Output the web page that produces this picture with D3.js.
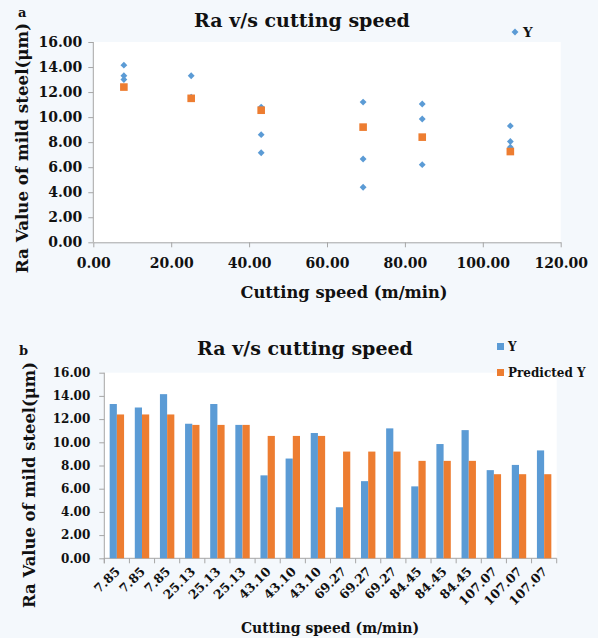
<!DOCTYPE html>
<html><head><meta charset="utf-8">
<script src="https://cdn.jsdelivr.net/npm/d3@7"></script>
<style>
html,body{margin:0;padding:0;background:#f4f8fc;}
svg{display:block;}
text{font-family:"DejaVu Serif",serif;font-weight:bold;fill:#111;}
</style></head><body>
<svg id="c" width="598" height="638"></svg>
<script>
const speeds = [7.85, 25.13, 43.10, 69.27, 84.45, 107.07];
const categories = ["7.85","7.85","7.85","25.13","25.13","25.13","43.10","43.10","43.10","69.27","69.27","69.27","84.45","84.45","84.45","107.07","107.07","107.07"];
const yValues = [13.3, 13.0, 14.15, 11.6, 13.3, 11.5, 7.15, 8.6, 10.8, 4.4, 6.65, 11.2, 6.2, 9.85, 11.05, 7.6, 8.05, 9.3];
const predictedY = [12.4, 12.4, 12.4, 11.5, 11.5, 11.5, 10.55, 10.55, 10.55, 9.2, 9.2, 9.2, 8.4, 8.4, 8.4, 7.25, 7.25, 7.25];
const xTicksA = [0, 20, 40, 60, 80, 100, 120];
const yTicks = [0, 2, 4, 6, 8, 10, 12, 14, 16];
const title = "Ra v/s cutting speed";
const yTitle = "Ra Value of mild steel(\u03bcm)";
const xTitle = "Cutting speed (m/min)";
const blue = "#5b9bd5", orange = "#ed7d31", axisCol = "#a6a6a6";

const svg = d3.select("#c");
const fmt = d => d.toFixed(2);

// ---------- Chart a: scatter ----------
{
  const L = 93.3, R = 560.7, T = 42, B = 242.3;
  const x = d3.scaleLinear().domain([0, 120]).range([L, R]);
  const y = d3.scaleLinear().domain([0, 16]).range([B, T]);
  const g = svg.append("g");
  g.append("rect").attr("x", L).attr("y", T).attr("width", R - L).attr("height", B - T).attr("fill", "#fff");
  const ya = g.append("g").attr("transform", `translate(${L},0)`)
    .call(d3.axisLeft(y).tickValues(yTicks).tickFormat(fmt).tickSize(5).tickPadding(6).tickSizeOuter(0));
  const xa = g.append("g").attr("transform", `translate(0,${B})`)
    .call(d3.axisBottom(x).tickValues(xTicksA).tickFormat(fmt).tickSize(5).tickPadding(11).tickSizeOuter(0));
  [ya, xa].forEach(a => {
    a.selectAll("path,line").attr("stroke", axisCol);
    a.selectAll("text").attr("font-size", 14).attr("font-family", "DejaVu Serif").attr("font-weight", "bold").attr("fill", "#111");
  });
  ya.select(".domain").remove();
  g.append("line").attr("x1", L).attr("x2", L).attr("y1", T).attr("y2", B).attr("stroke", axisCol);
  const pts = [];
  yValues.forEach((v, i) => pts.push({ s: speeds[Math.floor(i / 3)], v }));
  g.selectAll(".dia").data(pts).enter().append("path")
    .attr("d", d3.symbol().type(d3.symbolDiamond2 || d3.symbolDiamond).size(30))
    .attr("transform", d => `translate(${x(d.s)},${y(d.v)})`)
    .attr("fill", blue);
  const pp = speeds.map((s, i) => ({ s, v: predictedY[i * 3] }));
  g.selectAll(".sq").data(pp).enter().append("rect")
    .attr("x", d => x(d.s) - 3.8).attr("y", d => y(d.v) - 3.8)
    .attr("width", 7.6).attr("height", 7.6).attr("fill", orange);
  g.append("text").attr("x", 302).attr("y", 27).attr("text-anchor", "middle").attr("font-size", 19).text(title);
  g.append("text").attr("x", 344).attr("y", 298).attr("text-anchor", "middle").attr("font-size", 16.3).text(xTitle);
  g.append("text").attr("transform", "translate(28,148) rotate(-90)").attr("text-anchor", "middle").attr("font-size", 16.7).text(yTitle);
  g.append("path").attr("d", d3.symbol().type(d3.symbolDiamond2 || d3.symbolDiamond).size(30)).attr("transform", "translate(515,32)").attr("fill", blue);
  g.append("text").attr("x", 523).attr("y", 37).attr("font-size", 13.5).text("Y");
  g.append("text").attr("x", 18).attr("y", 17).attr("font-family", "Liberation Sans").attr("font-size", 13).text("a");
}

// ---------- Chart b: bars ----------
{
  const L = 104.3, R = 556.7, T = 372.7, B = 558.3;
  const x = d3.scaleBand().domain(d3.range(categories.length)).range([L, R]).paddingInner(0).paddingOuter(0);
  const y = d3.scaleLinear().domain([0, 16]).range([B, T]);
  const bw = 7.2;
  const g = svg.append("g");
  g.append("rect").attr("x", L).attr("y", T).attr("width", R - L).attr("height", B - T).attr("fill", "#fff");
  const ya = g.append("g").attr("transform", `translate(${L},0)`)
    .call(d3.axisLeft(y).tickValues(yTicks).tickFormat(fmt).tickSize(5).tickPadding(9).tickSizeOuter(0));
  ya.selectAll("line").attr("stroke", axisCol);
  ya.select(".domain").remove();
  ya.selectAll("text").attr("font-size", 12).attr("font-family", "DejaVu Serif").attr("font-weight", "bold").attr("fill", "#111");
  g.append("line").attr("x1", L).attr("x2", L).attr("y1", T).attr("y2", B + 5).attr("stroke", axisCol);
  g.append("line").attr("x1", L).attr("x2", R).attr("y1", B).attr("y2", B).attr("stroke", axisCol);
  g.selectAll(".tk").data(d3.range(categories.length + 1)).enter().append("line")
    .attr("x1", i => L + i * x.bandwidth()).attr("x2", i => L + i * x.bandwidth())
    .attr("y1", B).attr("y2", B + 5).attr("stroke", axisCol);
  const c = i => x(i) + x.bandwidth() / 2;
  g.selectAll(".by").data(yValues).enter().append("rect")
    .attr("x", (d, i) => c(i) - bw).attr("width", bw)
    .attr("y", d => y(d)).attr("height", d => B - y(d)).attr("fill", blue);
  g.selectAll(".bp").data(predictedY).enter().append("rect")
    .attr("x", (d, i) => c(i)).attr("width", bw)
    .attr("y", d => y(d)).attr("height", d => B - y(d)).attr("fill", orange);
  g.selectAll(".xl").data(categories).enter().append("text")
    .attr("transform", (d, i) => `translate(${c(i) + 4},${B + 14}) rotate(-45)`)
    .attr("text-anchor", "end").attr("font-size", 12.5).text(d => d);
  g.append("text").attr("x", 305).attr("y", 355).attr("text-anchor", "middle").attr("font-size", 19).text(title);
  g.append("text").attr("x", 330).attr("y", 633).attr("text-anchor", "middle").attr("font-size", 14).text(xTitle);
  g.append("text").attr("transform", "translate(35,485) rotate(-90)").attr("text-anchor", "middle").attr("font-size", 16.4).text(yTitle);
  g.append("rect").attr("x", 497).attr("y", 343).attr("width", 7).attr("height", 7).attr("fill", blue);
  g.append("text").attr("x", 508).attr("y", 351).attr("font-size", 12).text("Y");
  g.append("rect").attr("x", 497).attr("y", 369).attr("width", 7).attr("height", 7).attr("fill", orange);
  g.append("text").attr("x", 508).attr("y", 377).attr("font-size", 12).text("Predicted Y");
  g.append("text").attr("x", 19).attr("y", 355).attr("font-family", "Liberation Sans").attr("font-size", 13).text("b");
}
</script></body></html>
